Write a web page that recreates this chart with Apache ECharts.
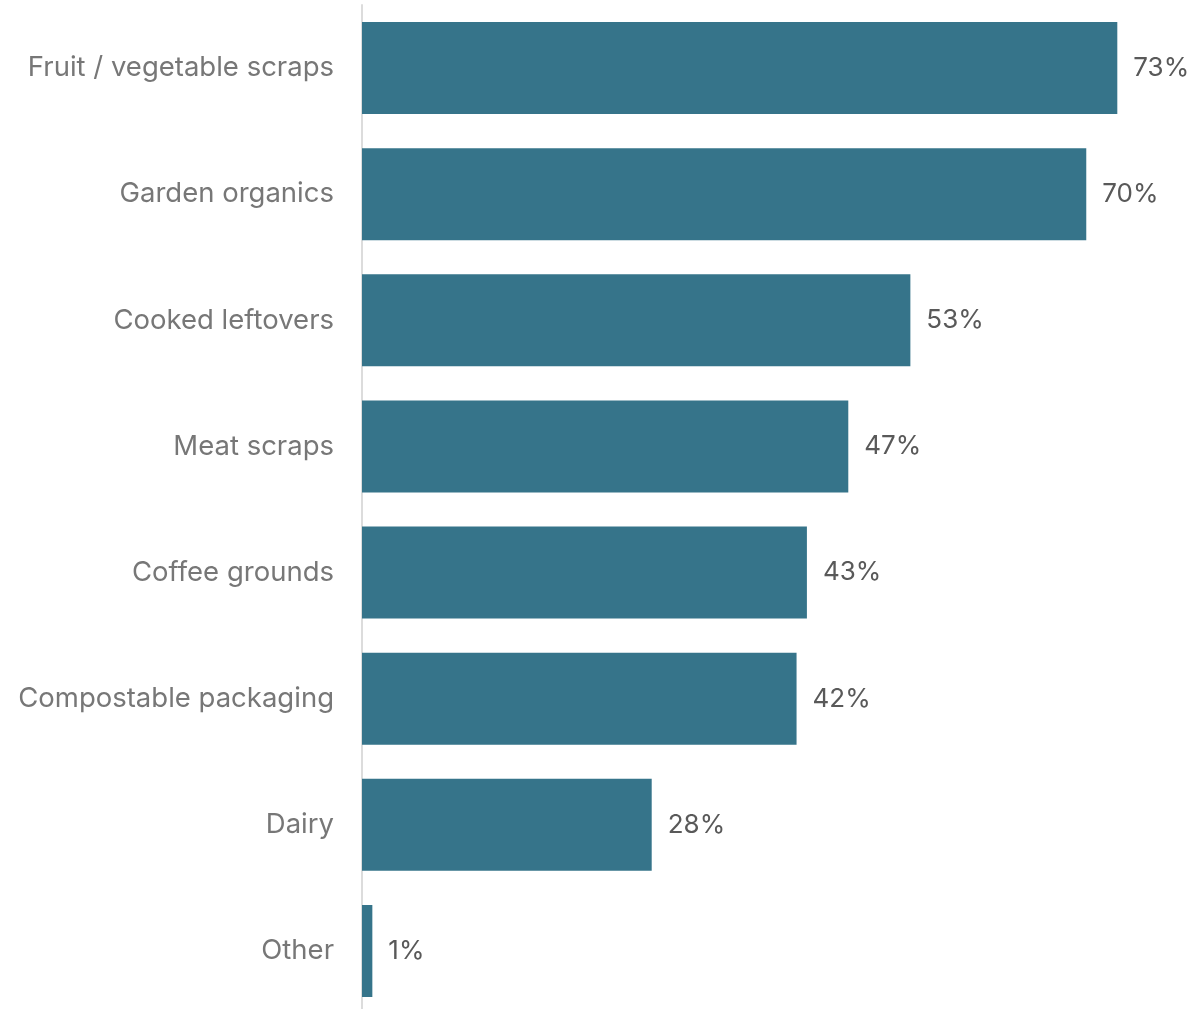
<!DOCTYPE html>
<html><head><meta charset="utf-8">
<script src="https://cdn.jsdelivr.net/npm/echarts@6/dist/echarts.min.js"></script>
<style>html,body{margin:0;padding:0;background:#fff}#c{width:1194px;height:1009px}</style>
</head><body><div id="c"></div>
<script>
const categories = ["Fruit / vegetable scraps","Garden organics","Cooked leftovers","Meat scraps","Coffee grounds","Compostable packaging","Dairy","Other"];
const values = [73,70,53,47,43,42,28,1];
const chart = echarts.init(document.getElementById('c'), null, {renderer:'canvas'});
chart.setOption({
  animation:false,
  grid:{left:362,top:5,width:776,height:1009,containLabel:false,outerBoundsMode:'none'},
  xAxis:{type:'value',min:0,max:75,show:false},
  yAxis:{type:'category',data:categories,inverse:true,
    axisLine:{show:true,lineStyle:{color:'#dcdcdc',width:2}},
    axisTick:{show:false},
    axisLabel:{color:'#777',fontSize:27.5,fontFamily:'Inter',margin:28}},
  series:[{type:'bar',data:values,barCategoryGap:'27%',
    itemStyle:{color:'#36748a'},
    label:{show:true,position:'right',distance:16,formatter:'{c}%',color:'#595959',fontSize:26,fontFamily:'Inter'}}]
});
</script></body></html>
